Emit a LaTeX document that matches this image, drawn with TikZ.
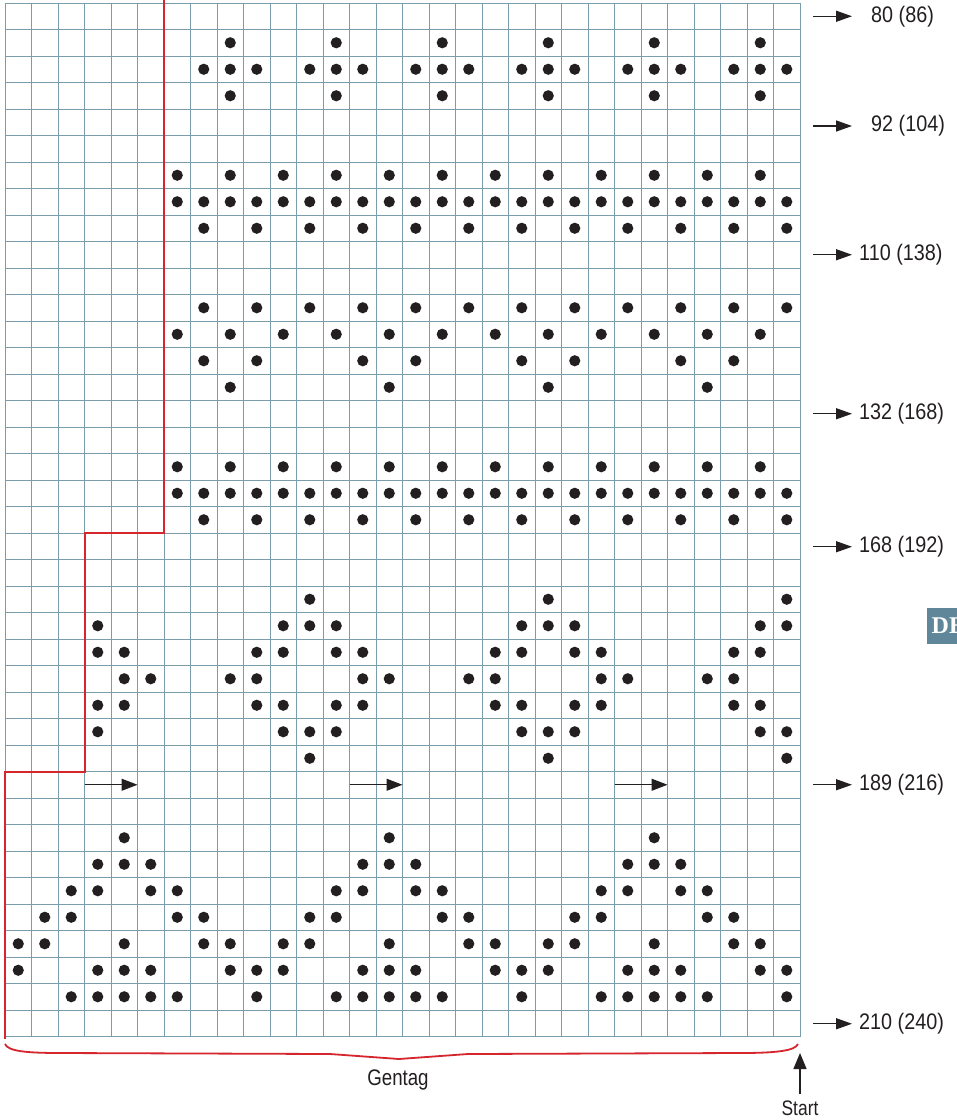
\documentclass[tikz,border=0pt]{standalone}
\usepackage{fontspec}
\setmainfont{Liberation Sans}[FakeStretch=0.83]
\newfontfamily\numfont{Liberation Sans}[FakeStretch=0.88]
\newfontfamily\tabfont{Liberation Serif}[BoldFont={* Bold}]
\usetikzlibrary{arrows.meta}
\definecolor{gridc}{RGB}{122,156,172}
\definecolor{redc}{RGB}{212,38,44}
\definecolor{dotc}{RGB}{35,31,32}
\definecolor{tabc}{RGB}{95,135,153}
\begin{document}
\begin{tikzpicture}[x=1pt,y=-1pt,
  gridline/.style={draw=gridc, line width=1pt},
  redline/.style={draw=redc, line width=2pt},
  dot/.style={fill=dotc},
  arr/.style={-{Triangle[length=16pt,width=11pt]}, line width=1.4pt, draw=dotc},
  rowarr/.style={-{Triangle[length=16pt,width=12pt]}, line width=1.2pt, draw=dotc},
  lbl/.style={anchor=west, inner sep=0pt, font=\numfont\fontsize{22.5}{26}\selectfont, text=dotc}]
\useasboundingbox (0,0) rectangle (957,1120);
\fill[white] (0,0) rectangle (957,1120);
% grid
\foreach \i in {0,...,30} \draw[gridline] ({5+26.5*\i},3) -- ({5+26.5*\i},1036.5);
\foreach \j in {0,...,39} \draw[gridline] (5,{3+26.5*\j}) -- (800,{3+26.5*\j});
% dots
\foreach \r/\cs in {
2/{9,13,17,21,25,29},
3/{8,9,10,12,13,14,16,17,18,20,21,22,24,25,26,28,29,30},
4/{9,13,17,21,25,29},
7/{7,9,...,29},
8/{7,...,30},
9/{8,10,...,30},
12/{8,10,...,30},
13/{7,9,...,29},
14/{8,10,14,16,20,22,26,28},
15/{9,15,21,27},
18/{7,9,...,29},
19/{7,...,30},
20/{8,10,...,30},
23/{12,21,30},
24/{4,11,12,13,20,21,22,29,30},
25/{4,5,10,11,13,14,19,20,22,23,28,29},
26/{5,6,9,10,14,15,18,19,23,24,27,28},
27/{4,5,10,11,13,14,19,20,22,23,28,29},
28/{4,11,12,13,20,21,22,29,30},
29/{12,21,30},
32/{5,15,25},
33/{4,5,6,14,15,16,24,25,26},
34/{3,4,6,7,13,14,16,17,23,24,26,27},
35/{2,3,7,8,12,13,17,18,22,23,27,28},
36/{1,2,5,8,9,11,12,15,18,19,21,22,25,28,29},
37/{1,4,5,6,9,10,11,14,15,16,19,20,21,24,25,26,29,30},
38/{3,4,5,6,7,10,13,14,15,16,17,20,23,24,25,26,27,30}}
{\foreach \c in \cs {\fill[dot] ({5+26.5*(\c-0.5)},{3+26.5*(\r-0.5)}) circle (5.6pt);}}
% row arrows (row 30)
\foreach \c/\n in {4/a,14/b,24/c}{
  \coordinate (ra\n) at ({5+26.5*(\c-1)},784.75);
  \coordinate (rb\n) at ({5+26.5*(\c+1)},784.75);
  \draw[rowarr] (ra\n) -- (rb\n);
}
% red boundary
\draw[redline, line join=miter] (164,0) -- (164,533) -- (84.5,533) -- (84.5,771.5) -- (5,771.5) -- (5,1039);
% brace
\draw[redline, line width=1.8pt] (5,1044) .. controls (8,1051) and (25,1053) .. (60,1053) -- (330,1054) -- (399,1059) -- (468,1054) -- (740,1053) .. controls (775,1053) and (795,1051) .. (798,1044);
\node[inner sep=0pt, font=\fontsize{22.5}{26}\selectfont, text=dotc] (gentag) at (398,1080) {Gentag};
% start arrow
\node[inner sep=0pt, font=\fontsize{21}{24}\selectfont, text=dotc] (start) at (800,1108) {Start};
\coordinate (startTip) at (800,1053);
\draw[arr, -{Triangle[length=16pt,width=13pt]}] (start.north) ++(0,-6) -- (startTip);
% right labels
\foreach \y/\x/\t/\n in {16.25/871/80 (86)/l1, 126/871/92 (104)/l2, 254.75/859/110 (138)/l3, 413.75/859/132 (168)/l4, 546.75/859/168 (192)/l5, 784.75/859/189 (216)/l6, 1023.75/859/210 (240)/l7}{
  \node[lbl] (\n) at (\x,\y) {\t};
  \coordinate (\n s) at (813,\y);
  \coordinate (\n e) at (852,\y);
  \draw[arr] (\n s) -- (\n e);
}
% thumb tab
\fill[tabc] (927,608) rectangle (960,643.5);
\node[anchor=base west, inner sep=0pt, text=white, font=\tabfont\bfseries\fontsize{24}{28}\selectfont] (tab) at (931.5,633.3) {DE};
\end{tikzpicture}
\end{document}
